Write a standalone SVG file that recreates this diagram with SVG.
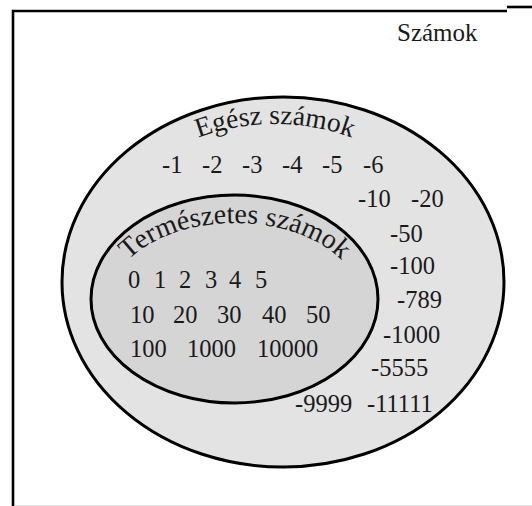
<svg xmlns="http://www.w3.org/2000/svg" width="532" height="506" viewBox="0 0 532 506">
<style>
.t{font-family:"Liberation Serif","Times New Roman",serif;fill:#1a1a1a}
.n{font-size:24.5px}
.set{stroke:#000;stroke-width:3}
</style>
<defs>
<path id="arcOuter" d="M85,284 A190,160 0 0 1 465,284"/>
<path id="arcInner" d="M110,301 A125,78 0 0 1 360,301"/>
</defs>
<rect width="532" height="506" fill="#fff"/>
<g id="frame">
<line x1="15" y1="505.5" x2="532" y2="505.5" stroke="#e6e6e6" stroke-width="1"/>
<polyline points="13,506 13,11 507,11" fill="none" stroke="#000" stroke-width="2.6"/>
<line x1="507" y1="7" x2="532" y2="7" stroke="#000" stroke-width="2.6"/>
<text class="t" x="397" y="41" font-size="25">Számok</text>
</g>
<g id="egesz">
<ellipse class="set" cx="283" cy="282" rx="221" ry="185" fill="#e3e3e3"/>
<text class="t" font-size="27.5"><textPath href="#arcOuter" startOffset="50%" text-anchor="middle">Egész számok</textPath></text>
<text class="t n" y="173"><tspan x="162">-1</tspan><tspan x="202">-2</tspan><tspan x="242">-3</tspan><tspan x="282">-4</tspan><tspan x="322">-5</tspan><tspan x="363">-6</tspan></text>
<text class="t n" y="207"><tspan x="358">-10</tspan><tspan x="411">-20</tspan></text>
<text class="t n" x="390" y="242">-50</text>
<text class="t n" x="390" y="274">-100</text>
<text class="t n" x="397" y="308">-789</text>
<text class="t n" x="383" y="343">-1000</text>
<text class="t n" x="371" y="376">-5555</text>
<text class="t n" y="412"><tspan x="295">-9999</tspan><tspan x="367">-11111</tspan></text>
</g>
<g id="termeszetes">
<ellipse class="set" cx="234.5" cy="299" rx="143.5" ry="104" fill="#d5d5d5"/>
<text class="t" font-size="28"><textPath href="#arcInner" startOffset="50%" text-anchor="middle">Természetes számok</textPath></text>
<text class="t n" y="288"><tspan x="128">0</tspan><tspan x="154">1</tspan><tspan x="179">2</tspan><tspan x="205">3</tspan><tspan x="229">4</tspan><tspan x="255">5</tspan></text>
<text class="t n" y="323"><tspan x="130">10</tspan><tspan x="173">20</tspan><tspan x="217">30</tspan><tspan x="262">40</tspan><tspan x="306">50</tspan></text>
<text class="t n" y="357"><tspan x="130">100</tspan><tspan x="187">1000</tspan><tspan x="257">10000</tspan></text>
</g>
<g id="connectors"/>
</svg>
